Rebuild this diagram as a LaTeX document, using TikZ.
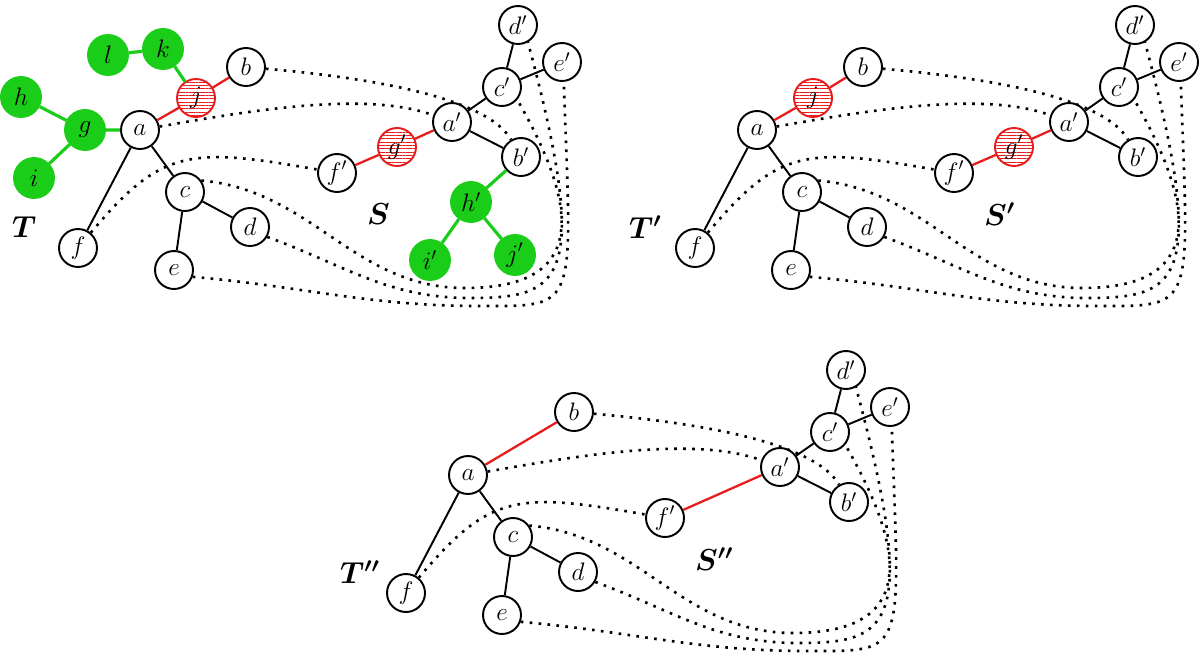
\documentclass[tikz,border=0pt]{standalone}
\usetikzlibrary{patterns.meta}
\definecolor{leafgreen}{RGB}{25,205,25}
\definecolor{cutred}{RGB}{232,28,28}

\begin{document}
\begin{tikzpicture}[x=0.02cm, y=0.02cm,
  vertex/.style={draw, circle, line width=1.1pt, fill=white, inner sep=0pt, minimum size=0.76cm, font=\Large},
  leafvertex/.style={vertex, draw=leafgreen, fill=leafgreen, minimum size=0.8cm},
  cutvertex/.style={vertex, draw=cutred, preaction={fill=white}, pattern={Lines[distance=1.9pt,line width=0.55pt]}, pattern color=cutred},
  treeedge/.style={line width=1.1pt},
  growedge/.style={line width=1.8pt, leafgreen},
  pruneedge/.style={line width=1.3pt, cutred},
  matchline/.style={line width=1.5pt, dash pattern=on 1.5pt off 3.6pt},
  title/.style={anchor=west, font=\LARGE\boldmath}]
\useasboundingbox (0,0) rectangle (1200,-653);
\foreach \p/\dx/\dy/\pr in {T/0/0/{}, U/617/0/', V/328/-345/''} {
  \begin{scope}[shift={(\dx,\dy)}, name prefix=\p-]
    \foreach \n/\x/\y in {a/140/-130, b/246/-67, c/185/-192, d/250/-227, e/174/-270, f/78/-248}
      \node[vertex] (\n) at (\x,\y) {$\n$};
    \foreach \n/\x/\y in {a/452/-122, b/521/-157, c/502/-87, d/518/-25, e/562/-62, f/337/-173}
      \node[vertex] (\n') at (\x,\y) {$\n'$};
    \node[title] (T) at (6,-227) {$T\pr$};
    \node[title] (S) at (361,-214) {$S\pr$};
    \coordinate (cb) at (465,-288);
    \coordinate (db) at (470,-298);
    \coordinate (eb) at (480,-306);
    \draw[treeedge] (a) -- (c) -- (d) (c) -- (e) (a) -- (f);
    \draw[treeedge] (b') -- (a') -- (c') -- (d') (c') -- (e');
    \draw[matchline] (b) to[out=-5, in=120, out distance=4cm, in distance=0.8cm] (b');
    \draw[matchline] (a) to[out=10, in=160, looseness=0.8] (a');
    \draw[matchline] (f.50) to[out=50, in=170, out distance=2.2cm, in distance=3cm] (f');
    \draw[matchline] (c.35) to[out=-5, in=180] (cb) to[out=0, in=-60, out distance=1.6cm, in distance=3.6cm] (c'.-40);
    \draw[matchline] (d.-30) to[out=-20, in=180] (db) to[out=0, in=-75, out distance=1.8cm, in distance=5cm] (d'.-60);
    \draw[matchline] (e.-20) to[out=-5, in=180] (eb) to[out=0, in=-88, out distance=2cm, in distance=4.6cm] (e'.-85);
  \end{scope}
}
\foreach \p/\dx in {T/0, U/617} {
  \begin{scope}[shift={(\dx,0)}, name prefix=\p-]
    \node[cutvertex] (j) at (196,-98) {$j$};
    \node[cutvertex] (g') at (397,-147) {$g'$};
    \draw[pruneedge] (a) -- (j) -- (b);
    \draw[pruneedge] (f') -- (g') -- (a');
  \end{scope}
}
\draw[pruneedge] (V-a) -- (V-b);
\draw[pruneedge] (V-f') -- (V-a');
\begin{scope}[name prefix=T-]
  \foreach \n/\x/\y in {g/85/-130, h/21/-97, i/34/-178, k/163/-49, l/108/-55}
    \node[leafvertex] (\n) at (\x,\y) {$\n$};
  \foreach \n/\x/\y in {h/471/-202, i/430/-260, j/515/-255}
    \node[leafvertex] (\n') at (\x,\y) {$\n'$};
  \draw[growedge] (h) -- (g) -- (a) (g) -- (i) (j) -- (k) -- (l);
  \draw[growedge] (b') -- (h') -- (i') (h') -- (j');
\end{scope}
\end{tikzpicture}
\end{document}
